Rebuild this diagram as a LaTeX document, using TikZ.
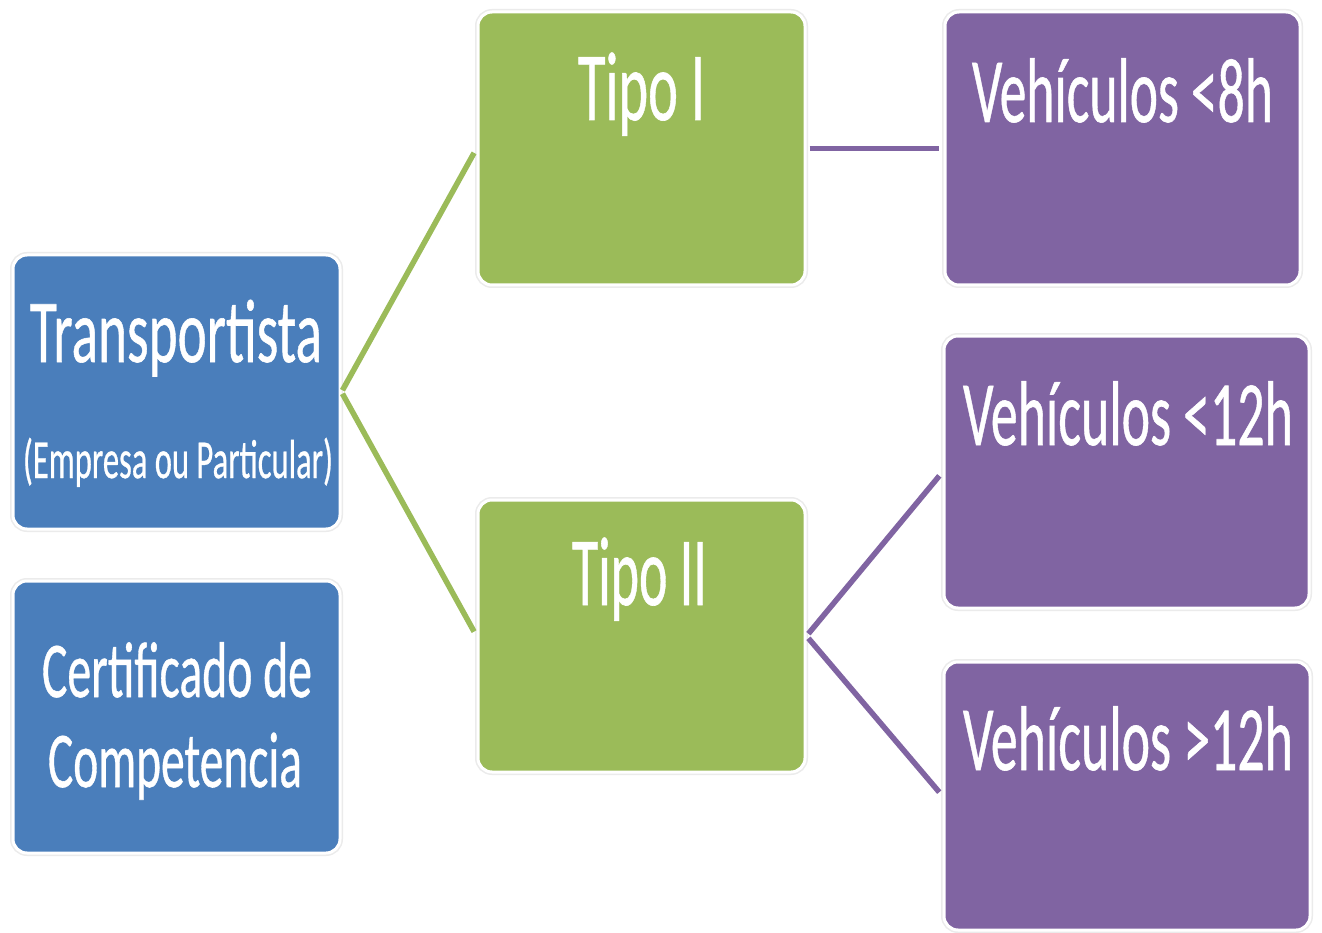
\documentclass[tikz,border=0pt]{standalone}
\usepackage{fontspec}
\setmainfont{Carlito}
\newfontfamily\lblfont[FakeBold=0.7]{Carlito}
\usepackage{graphicx}
\definecolor{cblue}{HTML}{4A7EBB}
\definecolor{cgreen}{HTML}{9BBB59}
\definecolor{cpurple}{HTML}{8064A2}
\newcommand{\fitw}[3]{\resizebox{#2pt}{\height}{\fontsize{#1pt}{#1pt}\lblfont #3}}
\tikzset{
  box/.style={rounded corners=14pt, inner sep=0pt, draw=white, line width=3pt,
    preaction={draw=black!8, line width=6pt}},
  lbl/.style={anchor=base, inner sep=0pt, text=white},
  gline/.style={draw=cgreen, line width=5.5pt, shorten >=5pt, shorten <=2pt},
  pline/.style={draw=cpurple, line width=5.5pt, shorten >=5pt, shorten <=3pt}
}
\begin{document}
\begin{tikzpicture}[x=1pt,y=-1pt]
\useasboundingbox (0,0) rectangle (1322,933);
\fill[white] (0,0) rectangle (1322,933);
% boxes
\node[box, fill=cblue, minimum width=327pt, minimum height=274pt] (trans) at (176.5,392) {};
\node[box, fill=cblue, minimum width=327pt, minimum height=272pt] (cert) at (176.5,717) {};
\node[box, fill=cgreen, minimum width=327pt, minimum height=273pt] (t1) at (641.5,148.5) {};
\node[box, fill=cgreen, minimum width=327pt, minimum height=272pt] (t2) at (641.5,636) {};
\node[box, fill=cpurple, minimum width=355pt, minimum height=273pt] (v8) at (1122.5,148.5) {};
\node[box, fill=cpurple, minimum width=365pt, minimum height=272pt] (v12a) at (1126.5,472) {};
\node[box, fill=cpurple, minimum width=366pt, minimum height=268pt] (v12b) at (1127,796) {};
% connectors
\draw[gline] (trans.east) -- (t1.west);
\draw[gline] (trans.east) -- (t2.west);
\draw[pline] (t1.east) -- (v8.west);
\draw[pline] (t2.east) -- (v12a.west);
\draw[pline] (t2.east) -- (v12b.west);
% labels
\node[lbl] (transl) at (176,362) {\fitw{90}{292}{Transportista}};
\node[lbl] (transs) at (178,478) {\fitw{55}{310}{(Empresa ou Particular)}};
\node[lbl] (certa) at (177,697) {\fitw{79}{270}{Certificado de}};
\node[lbl] (certb) at (175,787) {\fitw{79}{254}{Competencia}};
\node[lbl] (t1l) at (641.5,120) {\fitw{98}{127}{Tipo I}};
\node[lbl] (t2l) at (639.5,605) {\fitw{98}{135}{Tipo II}};
\node[lbl] (v8l) at (1122.5,122) {\fitw{92}{301}{Vehículos <8h}};
\node[lbl] (v12al) at (1128,445) {\fitw{92}{330}{Vehículos <12h}};
\node[lbl] (v12bl) at (1128,770) {\fitw{92}{330}{Vehículos >12h}};
\end{tikzpicture}
\end{document}
